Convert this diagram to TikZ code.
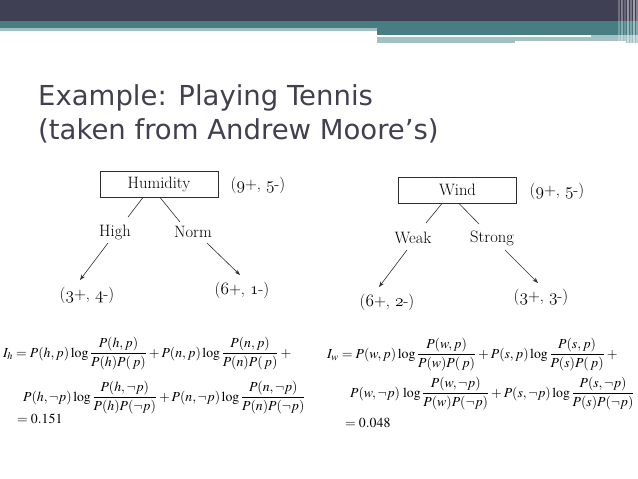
\documentclass[tikz,border=0pt]{standalone}
\usepackage{amsmath}
\usepackage{mathptmx}
\usepackage[no-math]{fontspec}
\newfontfamily\titlefont{DejaVu Sans}
\usetikzlibrary{arrows.meta,calc}
\definecolor{banddark}{RGB}{64,64,84}
\definecolor{bandteal}{RGB}{70,126,132}
\definecolor{bandlight}{RGB}{163,192,196}
\definecolor{titlegray}{RGB}{64,64,80}
\definecolor{inkgray}{RGB}{45,45,45}
\newcommand\osn[1]{{\usefont{OML}{lmm}{m}{it}#1}}
\tikzset{
  treebox/.style={draw=inkgray, line width=0.9pt, minimum width=118pt, minimum height=26pt, inner sep=0pt, font=\fontsize{16.5}{19}\selectfont},
  treetext/.style={inner sep=0pt, font=\fontsize{16.5}{19}\selectfont, text=black},
  edge/.style={draw=inkgray, line width=0.6pt},
  arrowedge/.style={draw=inkgray, line width=0.6pt, -{Stealth[length=5.5pt,width=4pt]}},
  eqtext/.style={anchor=base west, inner sep=0pt, font=\fontsize{13.8}{16}\selectfont},
  titletext/.style={anchor=base west, inner sep=0pt, text=titlegray, font=\titlefont\fontsize{27.5}{33}\selectfont}
}
\begin{document}
\begin{tikzpicture}[x=1pt,y=-1pt]
\useasboundingbox (0,0) rectangle (638,479);
\fill[white] (0,0) rectangle (638,479);
% top band
\fill[banddark] (0,0) rectangle (638,21);
\fill[bandteal] (0,21) rectangle (377,28);
\fill[bandlight] (0,28) rectangle (377,31);
\fill[bandteal] (377,21) rectangle (638,34.5);
\fill[bandlight] (377,36.5) rectangle (638,41);
\fill[bandlight] (377,41) rectangle (515,43);
\fill[bandlight] (591,34.5) rectangle (638,36.5);
\fill[bandlight] (626,41) rectangle (638,43);
\foreach \xx/\op in {618/0.25,621/0.35,624/0.2,627/0.45,630/0.3,633/0.5,636/0.35}
  \fill[white, opacity=\op] (\xx,0) rectangle (\xx+1.5,43);
% title
\node[titletext] (t1) at (38,105) {Example: Playing Tennis};
\node[titletext] (t2) at (38,139) {(taken from Andrew Moore’s)};
% left tree
\node[treebox] (hum) at (159,184) {Humidity};
\node[treetext] (humc) at (258,185) {(\osn{9}+, \osn{5}-)};
\node[treetext] (high) at (115,232) {High};
\node[treetext] (norm) at (193,232) {Norm};
\node[treetext] (l34) at (87,295) {(\osn{3}+, \osn{4}-)};
\node[treetext] (l61) at (242,290) {(\osn{6}+, \osn{1}-)};
\draw[edge] ($(hum.south)+(-16,0)$) -- ($(high)+(13,-15)$);
\draw[edge] ($(hum.south)+(1,0)$) -- ($(norm)+(-13,-10)$);
\draw[arrowedge] ($(high)+(-7,11)$) -- ($(l34)+(-7,-15)$);
\draw[arrowedge] ($(norm)+(14,11)$) -- ($(l61)+(-2,-15)$);
% right tree
\node[treebox] (wind) at (457.5,190) {Wind};
\node[treetext] (windc) at (557,191) {(\osn{9}+, \osn{5}-)};
\node[treetext] (weak) at (413,238) {Weak};
\node[treetext] (strong) at (492,238) {Strong};
\node[treetext] (l62) at (387,302) {(\osn{6}+, \osn{2}-)};
\node[treetext] (l33) at (541,297) {(\osn{3}+, \osn{3}-)};
\draw[edge] ($(wind.south)+(-15.5,0)$) -- ($(weak)+(13,-15)$);
\draw[edge] ($(wind.south)+(1.5,0)$) -- ($(strong)+(-13,-14)$);
\draw[arrowedge] ($(weak)+(-6,12)$) -- ($(l62)+(-8,-15)$);
\draw[arrowedge] ($(strong)+(13,12)$) -- ($(l33)+(-3,-14)$);
% left equation
\node[eqtext] (eh1) at (3,357) {$I_h = P(h, p)\log\dfrac{P(h, p)}{P(h)P(\,p)} + P(n, p)\log\dfrac{P(n, p)}{P(n)P(\,p)} +{}$};
\node[eqtext] (eh2) at (23,401) {$P(h,\neg p)\log\dfrac{P(h,\neg p)}{P(h)P(\neg p)} + P(n,\neg p)\log\dfrac{P(n,\neg p)}{P(n)P(\neg p)}$};
\node[eqtext] (eh3) at (17,423) {$= 0.151$};
% right equation
\node[eqtext] (ew1) at (327,358) {$I_w = P(w, p)\log\dfrac{P(w, p)}{P(w)P(\,p)} + P(s, p)\log\dfrac{P(s, p)}{P(s)P(\,p)} +{}$};
\node[eqtext] (ew2) at (350,397) {$P(w,\neg p)\,\log\dfrac{P(w,\neg p)}{P(w)P(\neg p)} + P(s,\neg p)\log\dfrac{P(s,\neg p)}{P(s)P(\neg p)}$};
\node[eqtext] (ew3) at (345,427) {$= 0.048$};
\end{tikzpicture}
\end{document}
